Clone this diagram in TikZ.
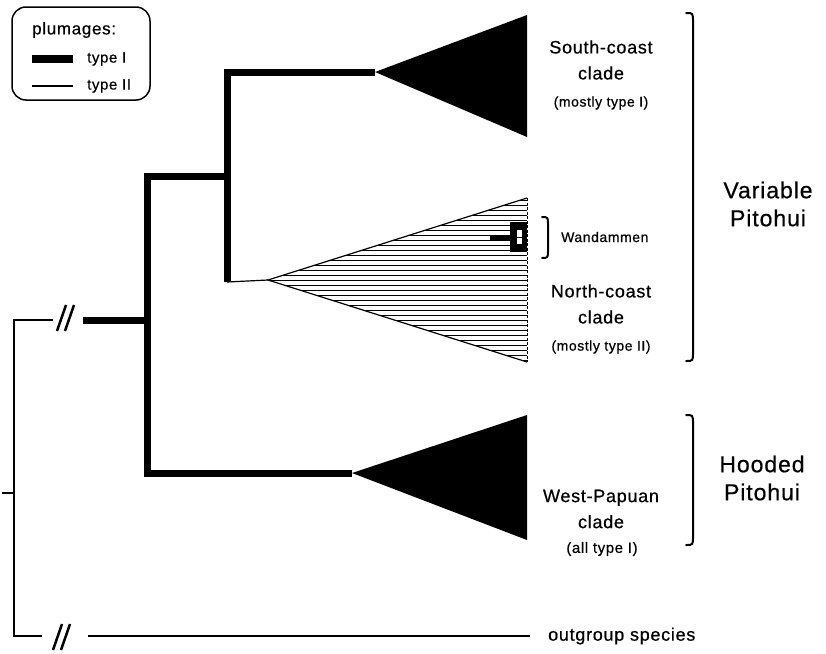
\documentclass[tikz,border=0pt]{standalone}
\usepackage{fontspec}
\setmainfont{Liberation Sans}[LetterSpace=4, FakeBold=0.6]
\usetikzlibrary{positioning}

\begin{document}
\begin{tikzpicture}[
    x=1pt, y=-1pt,
    thickbranch/.style={line width=7pt},
    thinbranch/.style={line width=1.2pt},
    hatch/.style={line width=1pt},
    brace/.style={line width=2pt, line cap=round},
    breakmark/.style={line width=2.5pt},
    cladename/.style={align=center, font=\fontsize{18}{26}\selectfont, inner sep=0pt},
    cladenote/.style={font=\fontsize{14}{16}\selectfont, inner sep=0pt},
    groupname/.style={align=center, font=\fontsize{23}{28}\selectfont, inner sep=0pt},
    legendtext/.style={font=\fontsize{15}{17}\selectfont, anchor=west, inner sep=0pt}
]
\useasboundingbox (0,0) rectangle (826,653);

% legend
\draw[line width=1.5pt, rounded corners=14pt] (12,7) rectangle (150,100);
\node[font=\fontsize{17}{20}\selectfont, anchor=west, inner sep=0pt] (plumages) at (32,30) {plumages:};
\node[legendtext] (typeI) at (87,59) {type I};
\node[legendtext] (typeII) at (87,86) {type II};
\coordinate (keyIa) at (32,59);
\coordinate (keyIIa) at (32,86);
\draw[thickbranch, line width=8pt] (keyIa) -- ++(41,0);
\draw[thinbranch] (keyIIa) -- ++(41,0);

% tree points
\coordinate (root) at (14,493);
\coordinate (stem) at (2,493);
\coordinate (ingap) at (53,320);
\coordinate (instart) at (83,320);
\coordinate (pit) at (147,320);
\coordinate (pitbot) at (147,473);
\coordinate (var) at (227,176);
\coordinate (varbot) at (227,282);
\coordinate (sc) at (375,72);
\coordinate (nc) at (268,280);
\coordinate (wp) at (352,473);
\coordinate (outbot) at (14,636);
\coordinate (outgap) at (42,636);
\coordinate (outstart) at (88,636);
\coordinate (outend) at (530,636);

% clades
\fill (sc) -- (527,15) -- (527,137) -- cycle;
\fill (wp) -- (527,415) -- (527,540) -- cycle;
\begin{scope}
\clip (nc) -- (527,198) -- (527,362) -- cycle;
\foreach \y in {200,205,...,360}
    \draw[hatch] (268,\y) -- (527,\y);
\end{scope}
\draw[thinbranch] (527,198) -- (nc) -- (527,362);
\draw[line width=1pt, dash pattern=on 3pt off 1.5pt] (527,198) -- (527,362);

% Wandammen
\coordinate (wdstem) at (490,237);
\coordinate (wd) at (511,237);
\draw[line width=5pt] (wdstem) -- (wd);
\fill (510,222) rectangle (527,252);
\fill[white] (517,230) rectangle (522,244);
\draw[hatch] (517,237) -- (522,237);

% branches
\draw[thinbranch] (stem) -- (root);
\draw[thinbranch] (ingap) -| (outbot) -- (outgap);
\draw[thinbranch] (outstart) -- (outend);
\draw[thickbranch] (instart) -- (pit);
\draw[thickbranch] (wp) -- (pitbot) |- (var);
\draw[thickbranch] (sc) -| (varbot);
\draw[thinbranch] (varbot) -- (nc);

% breaks
\draw[breakmark] (57,331) -- (66,305) (65,331) -- (74,305);
\draw[breakmark] (53,650) -- (62,624) (61,650) -- (70,624);

% braces
\draw[brace] (686,13) .. controls (693,13) .. (693,22) -- (693,352) .. controls (693,361) .. (686,361);
\draw[brace] (686,415) .. controls (693,415) .. (693,424) -- (693,536) .. controls (693,545) .. (686,545);
\draw[brace] (542,217) .. controls (548,217) .. (548,225) -- (548,250) .. controls (548,258) .. (542,258);

% labels
\node[cladename] (scname) at (601,60) {South-coast\\clade};
\node[cladenote] (scnote) at (601,103) {(mostly type I)};
\node[cladename] (ncname) at (601,304) {North-coast\\clade};
\node[cladenote] (ncnote) at (601,347) {(mostly type II)};
\node[cladename] (wpname) at (601,509) {West-Papuan\\clade};
\node[cladenote, font=\fontsize{15}{17}\selectfont] (wpnote) at (602,549) {(all type I)};
\node[cladenote, anchor=west] (wdname) at (561,237) {Wandammen};
\node[cladenote, anchor=west, font=\fontsize{18}{20}\selectfont] (outgroup) at (548,636) {outgroup species};
\node[groupname] (variable) at (768,204) {Variable\\Pitohui};
\node[groupname] (hooded) at (762,478) {Hooded\\Pitohui};

\end{tikzpicture}
\end{document}
